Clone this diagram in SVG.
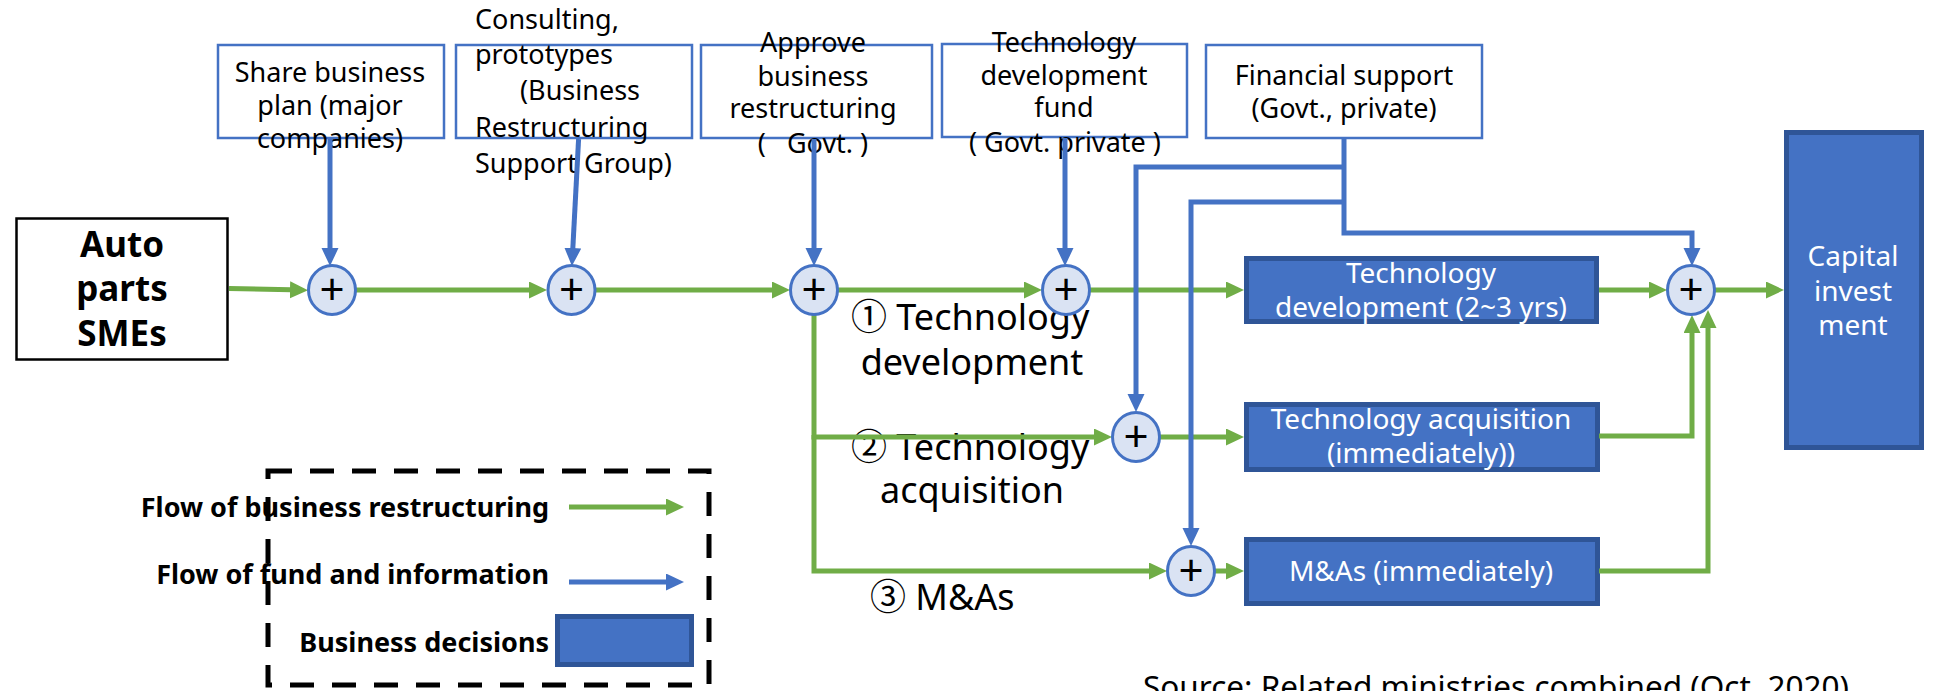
<svg xmlns="http://www.w3.org/2000/svg" width="1934" height="691" viewBox="0 0 1934 691">
  <style>
    text { font-family: "Noto Sans", "Noto Sans CJK KR", sans-serif; fill: #000; }
    .t27 { font-size: 27px; }
    .t28 { font-size: 28px; }
    .lbl { font-size: 36px; }
    .mid { text-anchor: middle; }
    .end { text-anchor: end; }
    .wht { fill: #fff; }
    .bold { font-weight: bold; }
    .plus { font-size: 44px; text-anchor: middle; }
    .src { fill: #fff; stroke: #4472C4; stroke-width: 2.5; }
    .dec { fill: #4472C4; stroke: #2F5597; stroke-width: 5; }
    .jn { fill: #DAE3F3; stroke: #4472C4; stroke-width: 3; }
    .g { fill: none; stroke: #70AD47; stroke-width: 5; marker-end: url(#ag); }
    .b { fill: none; stroke: #4472C4; stroke-width: 5; marker-end: url(#ab); }
  </style>
  <defs>
    <marker id="ag" markerUnits="userSpaceOnUse" markerWidth="18" markerHeight="18" refX="1" refY="8.5" orient="auto">
      <path d="M0,0 L18,8.5 L0,17 z" fill="#70AD47"/>
    </marker>
    <marker id="ab" markerUnits="userSpaceOnUse" markerWidth="18" markerHeight="18" refX="1" refY="8.5" orient="auto">
      <path d="M0,0 L18,8.5 L0,17 z" fill="#4472C4"/>
    </marker>
  </defs>
  <rect width="1934" height="691" fill="#fff"/>

  <!-- starting point -->
  <g id="sme">
    <rect x="16.5" y="218.5" width="211" height="141" fill="#fff" stroke="#000" stroke-width="2.5"/>
    <text class="bold mid" style="font-size:35px" x="122" y="257">Auto</text>
    <text class="bold mid" style="font-size:35px" x="122" y="301">parts</text>
    <text class="bold mid" style="font-size:35px" x="122" y="346">SMEs</text>
  </g>

  <!-- support inputs -->
  <g id="share-plan">
    <rect class="src" x="218" y="45" width="226" height="93"/>
    <text class="t27 mid" x="330" y="82">Share business</text>
    <text class="t27 mid" x="330" y="115">plan (major</text>
    <text class="t27 mid" x="330" y="148">companies)</text>
  </g>
  <g id="consulting">
    <rect class="src" x="456" y="45" width="236" height="93"/>
    <text class="t27" x="475" y="29">Consulting,</text>
    <text class="t27" x="475" y="64">prototypes</text>
    <text class="t27" x="520" y="100">(Business</text>
    <text class="t27" x="475" y="137">Restructuring</text>
    <text class="t27" x="475" y="173">Support Group)</text>
  </g>
  <g id="approve">
    <rect class="src" x="701" y="45" width="231" height="93"/>
    <text class="t27 mid" x="813" y="52">Approve</text>
    <text class="t27 mid" x="813" y="86">business</text>
    <text class="t27 mid" x="813" y="118">restructuring</text>
    <text class="t27 mid" x="813" y="153" xml:space="preserve">(   Govt. )</text>
  </g>
  <g id="tech-fund">
    <rect class="src" x="942" y="44" width="245" height="93"/>
    <text class="t27 mid" x="1064" y="52">Technology</text>
    <text class="t27 mid" x="1064" y="85">development</text>
    <text class="t27 mid" x="1064" y="117">fund</text>
    <text class="t27 mid" x="1065" y="152">( Govt. private )</text>
  </g>
  <g id="financial">
    <rect class="src" x="1206" y="45" width="276" height="93"/>
    <text class="t27 mid" x="1344" y="85">Financial support</text>
    <text class="t27 mid" x="1344" y="118">(Govt., private)</text>
  </g>

  <!-- path labels -->
  <g id="path-labels">
    <text class="lbl" x="851" y="330">① Technology</text>
    <text class="lbl mid" x="972" y="375">development</text>
    <text class="lbl" x="851" y="460">② Technology</text>
    <text class="lbl mid" x="972" y="503">acquisition</text>
    <text class="lbl" x="870" y="610">③ M&amp;As</text>
  </g>

  <!-- decisions -->
  <g id="tech-dev">
    <rect class="dec" x="1246.5" y="258.5" width="350" height="63"/>
    <text class="t28 mid wht" x="1421" y="283">Technology</text>
    <text class="t28 mid wht" x="1421" y="317">development (2~3 yrs)</text>
  </g>
  <g id="tech-acq">
    <rect class="dec" x="1246.5" y="404.5" width="351" height="65"/>
    <text class="t28 mid wht" x="1421" y="429">Technology acquisition</text>
    <text class="t28 mid wht" x="1421" y="463">(immediately))</text>
  </g>
  <g id="mna">
    <rect class="dec" x="1246.5" y="539.5" width="351" height="64"/>
    <text class="t28 mid wht" x="1421" y="581">M&amp;As (immediately)</text>
  </g>
  <g id="capital">
    <rect class="dec" x="1786.5" y="132.5" width="135" height="315"/>
    <text class="t28 mid wht" x="1853" y="266">Capital</text>
    <text class="t28 mid wht" x="1853" y="301">invest</text>
    <text class="t28 mid wht" x="1853" y="335">ment</text>
  </g>

  <!-- connectors -->
  <g id="connectors">
    <!-- restructuring flow -->
    <path class="g" d="M229,288.5 L291,289.8"/>
    <path class="g" d="M356,290 H530"/>
    <path class="g" d="M595,290 H773"/>
    <path class="g" d="M838,290 H1025"/>
    <path class="g" d="M1090,290 H1227"/>
    <path class="g" d="M1599,290 H1650"/>
    <path class="g" d="M1715,290 H1767"/>
    <path class="g" d="M814,314 V437 H1095"/>
    <path class="g" d="M814,435 V571 H1150"/>
    <path class="g" d="M1160,437 H1227"/>
    <path class="g" d="M1215,571 H1227"/>
    <path class="g" d="M1599,436 H1692 V332"/>
    <path class="g" d="M1599,571 H1708 V327"/>
    <!-- fund and information flow -->
    <path class="b" d="M330,139 V249"/>
    <path class="b" d="M578.6,139 L572.8,249"/>
    <path class="b" d="M814,139 V249"/>
    <path class="b" d="M1065,138 V249"/>
    <path class="b" d="M1344,139 V233 H1692 V249"/>
    <path class="b" d="M1344,167 H1136 V395"/>
    <path class="b" d="M1344,202 H1191 V529"/>
  </g>

  <!-- junctions -->
  <g id="j1"><ellipse class="jn" cx="332" cy="290" rx="23.5" ry="24.5"/><text class="plus" x="332" y="305">+</text></g>
  <g id="j2"><ellipse class="jn" cx="571.5" cy="290" rx="23.5" ry="24.5"/><text class="plus" x="571.5" y="305">+</text></g>
  <g id="j3"><ellipse class="jn" cx="814" cy="290" rx="23.5" ry="24.5"/><text class="plus" x="814" y="305">+</text></g>
  <g id="j4"><ellipse class="jn" cx="1066" cy="290" rx="23.5" ry="24.5"/><text class="plus" x="1066" y="305">+</text></g>
  <g id="j5"><ellipse class="jn" cx="1691" cy="290" rx="23.5" ry="24.5"/><text class="plus" x="1691" y="305">+</text></g>
  <g id="j-acq"><ellipse class="jn" cx="1136" cy="437" rx="23.5" ry="24.5"/><text class="plus" x="1136" y="452">+</text></g>
  <g id="j-mna"><ellipse class="jn" cx="1191" cy="571" rx="23.5" ry="24.5"/><text class="plus" x="1191" y="586">+</text></g>

  <!-- legend -->
  <g id="legend">
    <rect x="268" y="471" width="441" height="214" fill="none" stroke="#000" stroke-width="5" stroke-dasharray="24 18"/>
    <text class="t27 bold end" x="549" y="517">Flow of business restructuring</text>
    <path class="g" d="M569,507 H667"/>
    <text class="t27 bold end" x="549" y="584">Flow of fund and information</text>
    <path class="b" d="M569,582 H667"/>
    <text class="t27 bold end" x="549" y="652">Business decisions</text>
    <rect class="dec" x="557.5" y="616.5" width="134" height="48"/>
  </g>

  <text id="source" style="font-size:31.5px" x="1143" y="698">Source: Related ministries combined (Oct. 2020)</text>
</svg>
